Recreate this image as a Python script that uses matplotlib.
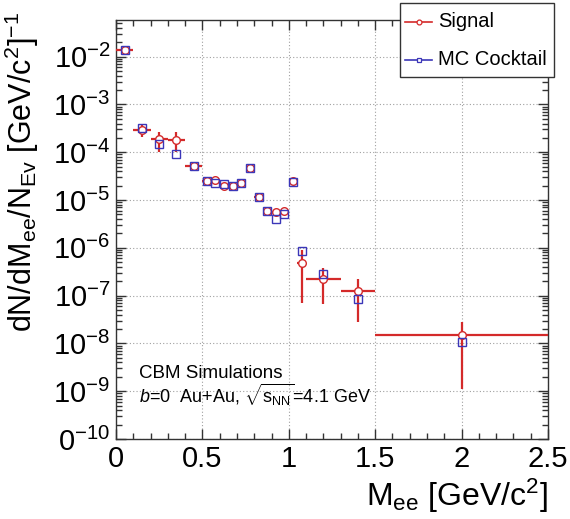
import matplotlib
matplotlib.use('Agg')
import matplotlib.pyplot as plt
from matplotlib.ticker import MultipleLocator, LogLocator, NullFormatter, FuncFormatter
from matplotlib.lines import Line2D
from matplotlib.patches import Rectangle
import math

plt.rcParams['font.family'] = ['Liberation Sans', 'DejaVu Sans']
plt.rcParams['mathtext.fontset'] = 'custom'
plt.rcParams['mathtext.rm'] = 'Liberation Sans'
plt.rcParams['mathtext.it'] = 'Liberation Sans:italic'
plt.rcParams['mathtext.bf'] = 'Liberation Sans:bold'

# ---- data ----
mass = [0.05, 0.15, 0.25, 0.35, 0.45, 0.525, 0.575, 0.625, 0.675, 0.725,
        0.775, 0.825, 0.875, 0.925, 0.975, 1.025, 1.075, 1.2, 1.4, 2.0]
half_width = [0.05, 0.05, 0.05, 0.05, 0.05, 0.025, 0.025, 0.025, 0.025, 0.025,
              0.025, 0.025, 0.025, 0.025, 0.025, 0.025, 0.025, 0.1, 0.1, 0.5]
signal = [1.36e-2, 2.93e-4, 1.87e-4, 1.81e-4, 5.1e-5, 2.5e-5, 2.64e-5, 1.97e-5, 1.95e-5, 2.25e-5,
          4.77e-5, 1.18e-5, 5.9e-6, 5.6e-6, 6.0e-6, 2.55e-5, 4.9e-7, 2.27e-7, 1.23e-7, 1.48e-8]
signal_err = [3e-4, 8e-5, 8.5e-5, 8e-5, 3e-6, 1.5e-6, 1.5e-6, 1.2e-6, 1.2e-6, 1.3e-6,
              2e-6, 1e-6, 6e-7, 6e-7, 6e-7, 1.5e-6, 4.2e-7, 1.6e-7, 9.5e-8, 1.37e-8]
cocktail = [1.36e-2, 3.18e-4, 1.49e-4, 9.1e-5, 5.1e-5, 2.5e-5, 2.31e-5, 2.14e-5, 1.95e-5, 2.25e-5,
            4.77e-5, 1.18e-5, 5.9e-6, 3.96e-6, 5.2e-6, 2.4e-5, 8.7e-7, 2.84e-7, 8.5e-8, 1.06e-8]
legend_labels = ["Signal", "MC Cocktail"]

RED = '#d42a2a'
BLUE = '#3b36b8'

W, H = 570, 519
fig = plt.figure(figsize=(W / 100, H / 100), dpi=100)


def fx(x):
    return x / W


def fy(y):
    return 1 - y / H


ax = fig.add_axes([116 / W, 1 - 439 / H, 432 / W, 419 / H])
ax.set_yscale('log')
ax.set_xlim(0, 2.5)
ax.set_ylim(1e-10, 5.86e-2)

ax.grid(True, which='major', linestyle=(0, (1, 2)), color='#a0a0a0', linewidth=0.8)
ax.set_axisbelow(True)

ax.errorbar(mass, signal, xerr=half_width, yerr=signal_err, fmt='o', color=RED,
            ecolor=RED, elinewidth=1.6, capsize=0, ms=5.5, mfc='white', mec=RED,
            mew=1.0, zorder=3)
ax.plot(mass, cocktail, 's', ms=5.5, mfc='none', mec=BLUE, mew=1.0, zorder=4)


def ylab(v, pos):
    e = int(round(math.log10(v)))
    base = '0' if e == -10 else '10'   # the reference shows the lowest label clipped as "0^-10"
    return r'$\mathdefault{%s^{%d}}$' % (base, e)


ax.xaxis.set_major_locator(MultipleLocator(0.5))
ax.xaxis.set_minor_locator(MultipleLocator(0.1))
ax.xaxis.set_major_formatter(FuncFormatter(lambda v, p: '%g' % v))
ax.yaxis.set_major_locator(LogLocator(base=10, numticks=20))
ax.yaxis.set_minor_locator(LogLocator(base=10, subs=range(2, 10), numticks=20))
ax.yaxis.set_major_formatter(FuncFormatter(ylab))
ax.yaxis.set_minor_formatter(NullFormatter())

ax.tick_params(which='both', direction='in', top=True, right=True, labelsize=21,
               color='#333333')
ax.tick_params(which='major', length=7, width=1)
ax.tick_params(which='minor', length=4.5, width=1)
ax.tick_params(axis='y', pad=4)
ax.tick_params(axis='x', pad=4)
for s in ax.spines.values():
    s.set_linewidth(1.0)
    s.set_color('#333333')

# axis labels
fig.text(fx(22), fy(12), r'dN/dM$_{\rm ee}$/N$_{\rm Ev}$ [GeV/c$^{2}$]$^{-1}$',
         rotation=90, ha='center', va='top', fontsize=22)
fig.text(fx(548), fy(506), r'M$_{\rm ee}$ [GeV/c$^{2}$]', ha='right', va='baseline',
         fontsize=23)

# annotations
fig.text(fx(139), fy(378), 'CBM Simulations', ha='left', va='baseline', fontsize=13.5)
fig.text(fx(139), fy(403), r'$b$=0  Au+Au, $\sqrt{\mathrm{s}_{\rm NN}}$=4.1 GeV', ha='left',
         va='baseline', fontsize=13)

# legend (manual, ROOT-like)
fig.add_artist(Rectangle((fx(400), fy(77)), 154 / W, 74 / H, transform=fig.transFigure,
                         facecolor='white', edgecolor='#333333', linewidth=1.0, zorder=10))
for yy, col, mk, lab in [(22, RED, 'o', legend_labels[0]), (60, BLUE, 's', legend_labels[1])]:
    fig.add_artist(Line2D([fx(405), fx(432)], [fy(yy), fy(yy)], transform=fig.transFigure,
                          color=col, linewidth=1.2, zorder=11))
    fig.add_artist(Line2D([fx(418.5)], [fy(yy)], transform=fig.transFigure, marker=mk,
                          ms=3.5, mfc='white', mec=col, mew=0.9, linestyle='none', zorder=12))
    fig.text(fx(438), fy(yy), lab, ha='left', va='center', fontsize=14.5, zorder=12)

fig.savefig('out.png', dpi=100)
